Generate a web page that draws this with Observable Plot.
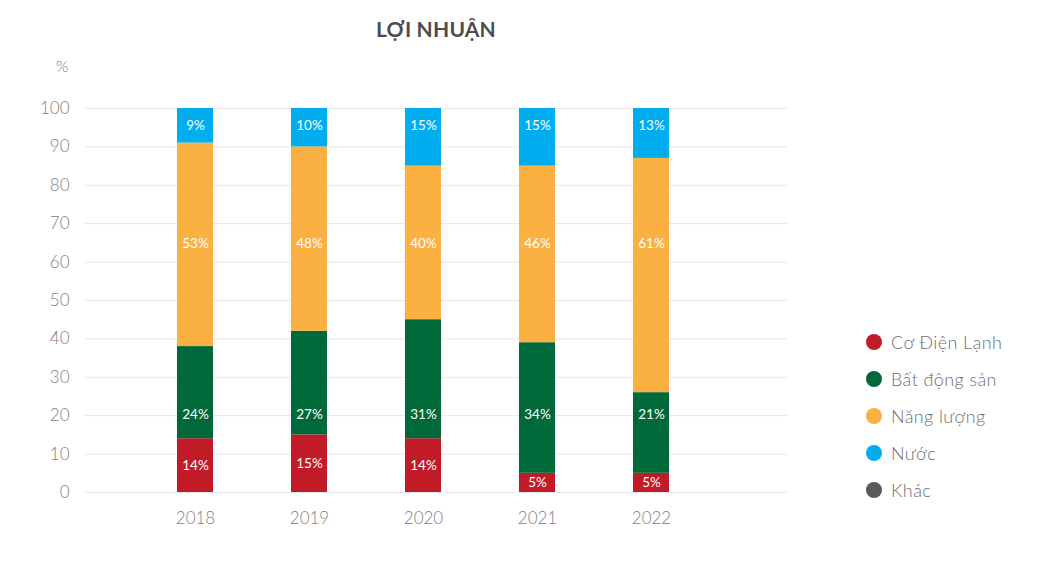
<!DOCTYPE html>
<html>
<head>
<meta charset="utf-8">
<script src="https://cdn.jsdelivr.net/npm/d3@7"></script>
<script src="https://cdn.jsdelivr.net/npm/@observablehq/plot@0.6"></script>
<style>
  html, body { margin: 0; padding: 0; background: #fff; }
  body { font-family: Lato, "Open Sans", sans-serif; }
  #wrap { position: relative; width: 1063px; height: 579px; }
  #title { position: absolute; left: 85px; width: 702px; top: 16px; text-align: center;
           font-size: 21px; font-weight: 700; color: #4d4d4f; letter-spacing: 0.2px; }
  #unit { position: absolute; left: 56px; top: 56px; font-size: 16px; font-weight: 300; color: #777; }
  #legend { position: absolute; left: 866px; top: 323px; }
  .item { display: flex; align-items: center; height: 37.2px; font-size: 18px; font-weight: 300; color: #6d6e71; letter-spacing: 0.4px; }
  .dot { width: 16px; height: 16px; border-radius: 50%; margin-right: 9px; }
  #chart { position: absolute; left: 0; top: 0; }
</style>
</head>
<body>
<div id="wrap">
  <div id="chart"></div>
  <div id="title">LỢI NHUẬN</div>
  <div id="unit">%</div>
  <div id="legend"></div>
</div>
<script>
// ---- data ----
const years = ["2018", "2019", "2020", "2021", "2022"];
const series = ["Cơ Điện Lạnh", "Bất động sản", "Năng lượng", "Nước", "Khác"];
const coDienLanh = [14, 15, 14, 5, 5];
const batDongSan = [24, 27, 31, 34, 21];
const nangLuong  = [53, 48, 40, 46, 61];
const nuoc       = [9, 10, 15, 15, 13];
const khac       = [0, 0, 0, 0, 0];
const yTicks = [0, 10, 20, 30, 40, 50, 60, 70, 80, 90, 100];
const colors = ["#c11b27", "#00693a", "#fbb042", "#00adee", "#58595b"];

const valuesBySeries = [coDienLanh, batDongSan, nangLuong, nuoc, khac];
const rows = [];
series.forEach((s, si) => years.forEach((y, yi) => rows.push({year: y, series: s, value: valuesBySeries[si][yi]})));

// label rows: red labels centred in segment; others at fixed heights as in the source
const labelRows = [];
years.forEach((y, yi) => {
  labelRows.push({year: y, pos: coDienLanh[yi] / 2, text: coDienLanh[yi] + "%"});
  labelRows.push({year: y, pos: 20.3, text: batDongSan[yi] + "%"});
  labelRows.push({year: y, pos: 64.8, text: nangLuong[yi] + "%"});
  labelRows.push({year: y, pos: 95.4, text: nuoc[yi] + "%"});
});

const chart = Plot.plot({
  width: 1063,
  height: 579,
  marginTop: 108,
  marginBottom: 87,
  marginLeft: 85,
  marginRight: 276,
  style: {fontFamily: "Lato, 'Open Sans', sans-serif", background: "#fff"},
  x: {domain: years, paddingInner: 0.6842, paddingOuter: 0.921, align: 0.438, label: null, tickSize: 0, tickPadding: 19},
  y: {domain: [0, 100], ticks: yTicks, label: null, tickSize: 0, tickPadding: 16},
  color: {domain: series, range: colors},
  marks: [
    Plot.gridY(yTicks, {stroke: "#e6e6e6", strokeOpacity: 1, strokeWidth: 1}),
    Plot.barY(rows, {x: "year", y: "value", fill: "series", order: series}),
    Plot.text(labelRows, {x: "year", y: "pos", text: "text", fill: "#fff", fontSize: 13.5}),
    Plot.axisY(yTicks, {tickSize: 0, tickPadding: 16, fontSize: 17, fontWeight: 300, fill: "#808080", label: null}),
    Plot.axisX({tickSize: 0, tickPadding: 19, fontSize: 17, fontWeight: 300, fill: "#808080", label: null})
  ]
});
document.getElementById("chart").appendChild(chart);

const legend = document.getElementById("legend");
series.forEach((s, i) => {
  const item = document.createElement("div");
  item.className = "item";
  const dot = document.createElement("span");
  dot.className = "dot";
  dot.style.background = colors[i];
  const lab = document.createElement("span");
  lab.textContent = s;
  item.appendChild(dot); item.appendChild(lab);
  legend.appendChild(item);
});
</script>
</body>
</html>
